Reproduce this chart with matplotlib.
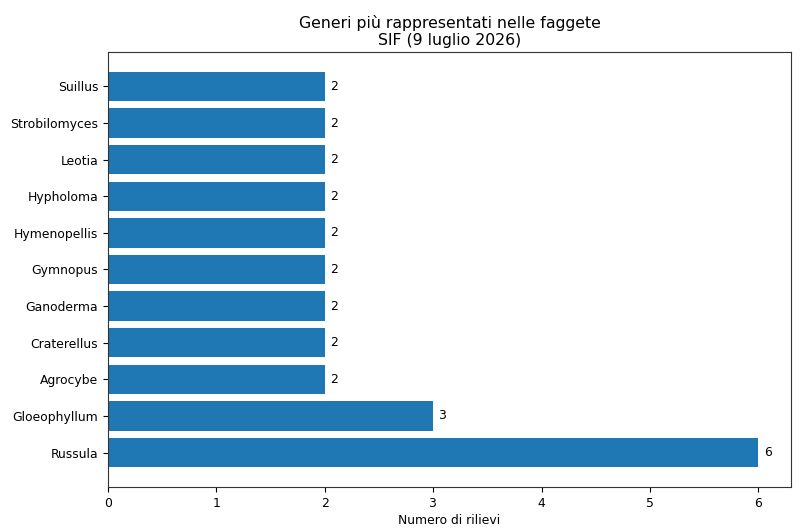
import matplotlib
matplotlib.use('Agg')
import matplotlib.pyplot as plt

# generi e numero di rilievi (dal basso verso l'alto)
generi = ['Russula', 'Gloeophyllum', 'Agrocybe', 'Craterellus', 'Ganoderma',
          'Gymnopus', 'Hymenopellis', 'Hypholoma', 'Leotia', 'Strobilomyces', 'Suillus']
rilievi = [6, 3, 2, 2, 2, 2, 2, 2, 2, 2, 2]

plt.rcParams['font.size'] = 8.9
plt.rcParams['axes.titlesize'] = 11.3
plt.rcParams['axes.edgecolor'] = '#333333'

fig = plt.figure(figsize=(8.03, 5.29), dpi=100)
ax = fig.add_axes([0.1345, 0.0794, 0.8505, 0.8223])

bars = ax.barh(generi, rilievi, color='#1f77b4')
ax.bar_label(bars, padding=4)

ax.set_title('Generi più rappresentati nelle faggete\nSIF (9 luglio 2026)', pad=5)
ax.set_xlabel('Numero di rilievi', labelpad=3)

fig.savefig('out.png', dpi=100)
